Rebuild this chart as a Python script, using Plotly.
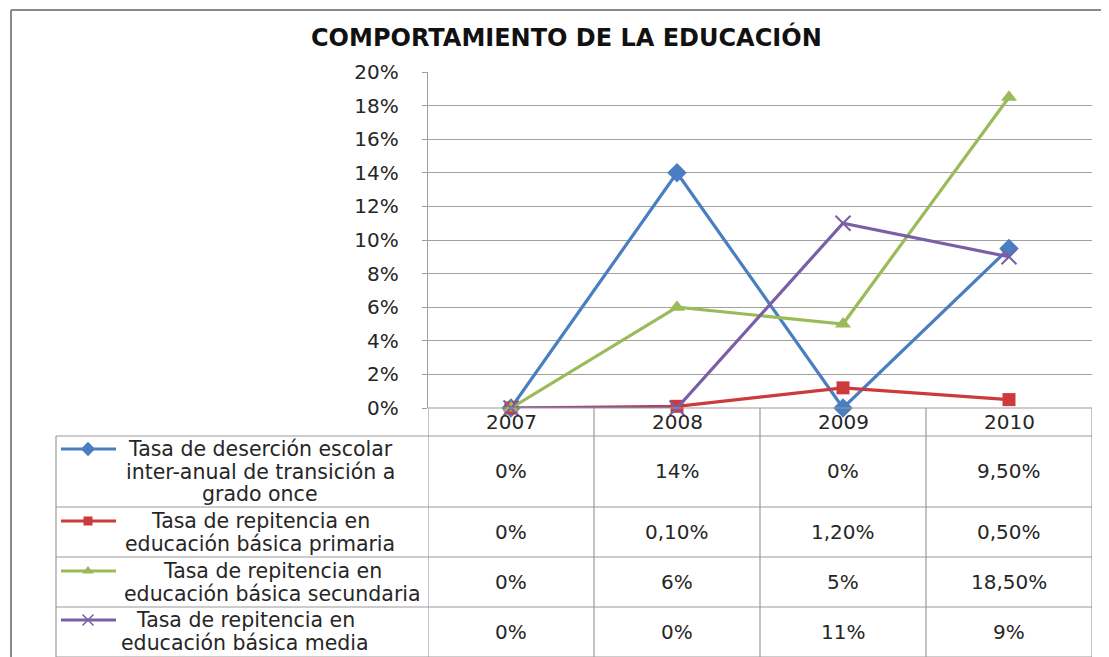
import plotly.graph_objects as go

# ---------------- data ----------------
years = ["2007", "2008", "2009", "2010"]

series_lines = [
    ["Tasa de deserción escolar", "inter-anual de transición a", "grado once"],
    ["Tasa de repitencia en", "educación básica primaria"],
    ["Tasa de repitencia en", "educación básica secundaria"],
    ["Tasa de repitencia en", "educación básica media"],
]

desercion = [0.0, 0.14, 0.0, 0.095]
rep_primaria = [0.0, 0.001, 0.012, 0.005]
rep_secundaria = [0.0, 0.06, 0.05, 0.185]
rep_media = [0.0, 0.0, 0.11, 0.09]

desercion_lbl = ["0%", "14%", "0%", "9,50%"]
rep_primaria_lbl = ["0%", "0,10%", "1,20%", "0,50%"]
rep_secundaria_lbl = ["0%", "6%", "5%", "18,50%"]
rep_media_lbl = ["0%", "0%", "11%", "9%"]

title_text = "COMPORTAMIENTO DE LA EDUCACIÓN"

# ---------------- layout / styles (page pixel coordinates) ----------------
PAGE_W, PAGE_H = 1109, 657
OFF = 8                                  # default body margin of the html page
W, H = PAGE_W - OFF, PAGE_H - OFF
PL, PR, PT, PB = 428, 1092, 72, 408      # plot area on the page
FONT = "DejaVu Sans"
TXT = "#262626"
GRID = "#a0a0a0"
TBL = "#9a9a9a"

values = [desercion, rep_primaria, rep_secundaria, rep_media]
labels = [desercion_lbl, rep_primaria_lbl, rep_secundaria_lbl, rep_media_lbl]
colors = ["#4A7EC0", "#CC3A3C", "#9BBB59", "#7A5EA6"]
symbols = ["diamond", "square", "triangle-up", "x-thin"]
msizes = [15, 13, 14, 15]

TBL_LEFT = 56
row_edges = [436, 507, 557, 607, 657]
row_first_y = [449, 521, 571, 620]
row_text_x = [260, 260, 272, 245]
LINE_GAP = 22.5


def fy(y):
    """page pixel y -> paper fraction"""
    return (PAGE_H - y) / H


fig = go.Figure()

for i in range(4):
    mk = dict(symbol=symbols[i], size=msizes[i], color=colors[i])
    if symbols[i] == "x-thin":
        mk["line"] = dict(color=colors[i], width=2)
    fig.add_trace(go.Scatter(
        x=years, y=values[i], mode="lines+markers",
        line=dict(color=colors[i], width=3.2),
        marker=mk, cliponaxis=False, showlegend=False,
        xaxis="x", yaxis="y",
    ))

# legend keys inside the table
for i in range(4):
    ky = row_first_y[i]
    fig.add_shape(type="line", xref="x2", yref="y2", x0=61, x1=116, y0=ky, y1=ky,
                  line=dict(color=colors[i], width=3), layer="above")
    mk = dict(symbol=symbols[i], size=msizes[i] - 4, color=colors[i])
    if symbols[i] == "x-thin":
        mk["line"] = dict(color=colors[i], width=1.5)
    fig.add_trace(go.Scatter(x=[88], y=[ky], mode="markers", marker=mk,
                             showlegend=False, xaxis="x2", yaxis="y2",
                             hoverinfo="skip", cliponaxis=False))

# table lines
shapes = []
shapes.append(dict(type="line", xref="x2", yref="y2", x0=PL, x1=PR, y0=PB, y1=PB,
                   line=dict(color=TBL, width=1.2)))
for ye in row_edges:
    shapes.append(dict(type="line", xref="x2", yref="y2", x0=TBL_LEFT, x1=PR, y0=ye, y1=ye,
                       line=dict(color=TBL, width=1.2)))
for xb in [-0.5, 0.5, 1.5, 2.5, 3.5]:
    shapes.append(dict(type="line", xref="x", yref="y2", x0=xb, x1=xb, y0=PB, y1=PAGE_H,
                       line=dict(color=TBL, width=1.2)))
shapes.append(dict(type="line", xref="x2", yref="y2", x0=TBL_LEFT, x1=TBL_LEFT,
                   y0=row_edges[0], y1=PAGE_H, line=dict(color=TBL, width=1.2)))
shapes.append(dict(type="line", xref="x2", yref="y2", x0=11, x1=11, y0=10, y1=PAGE_H,
                   line=dict(color="#8a8a8a", width=2)))
shapes.append(dict(type="line", xref="x2", yref="y2", x0=11, x1=PAGE_W, y0=10, y1=10,
                   line=dict(color="#8a8a8a", width=2)))
for s in shapes:
    fig.add_shape(**s)

annotations = []
for i in range(4):
    for k, line in enumerate(series_lines[i]):
        annotations.append(dict(xref="x2", yref="y2", x=row_text_x[i],
                                y=row_first_y[i] + k * LINE_GAP,
                                text=line, showarrow=False,
                                xanchor="center", yanchor="middle",
                                font=dict(family=FONT, size=20.5, color=TXT)))
    yc = (row_edges[i] + row_edges[i + 1]) / 2
    for j in range(len(years)):
        annotations.append(dict(xref="x", yref="paper", x=j, y=fy(yc),
                                text=labels[i][j], showarrow=False,
                                xanchor="center", yanchor="middle",
                                font=dict(family=FONT, size=20, color=TXT)))
for j in range(len(years)):
    annotations.append(dict(xref="x", yref="paper", x=j, y=fy(422),
                            text=years[j], showarrow=False,
                            xanchor="center", yanchor="middle",
                            font=dict(family=FONT, size=20, color=TXT)))
annotations.append(dict(xref="x2", yref="y2", x=566, y=37, text="<b>" + title_text + "</b>",
                        showarrow=False, xanchor="center", yanchor="middle",
                        font=dict(family=FONT, size=24, color="#111111")))

fig.update_layout(
    width=W, height=H,
    margin=dict(l=0, r=0, t=0, b=0, autoexpand=False),
    paper_bgcolor="white", plot_bgcolor="rgba(0,0,0,0)",
    showlegend=False,
    annotations=annotations,
    xaxis=dict(domain=[(PL - OFF) / W, (PR - OFF) / W], type="category", range=[-0.5, 3.5],
               anchor="y", automargin=False,
               showticklabels=False, showgrid=False, zeroline=False, showline=False,
               ticks="", fixedrange=True),
    yaxis=dict(domain=[fy(PB), fy(PT)], range=[0, 0.20], dtick=0.02,
               anchor="x", automargin=False,
               tickformat=".0%", showgrid=True, gridcolor=GRID, gridwidth=1.4,
               zeroline=False, showline=True, linecolor=GRID, linewidth=1.4,
               ticks="outside", ticklen=5, tickcolor=GRID, ticklabelstandoff=19,
               tickfont=dict(family=FONT, size=20, color=TXT), fixedrange=True),
    xaxis2=dict(domain=[0, 1], range=[OFF, PAGE_W], visible=False, anchor="y2",
                automargin=False, fixedrange=True),
    yaxis2=dict(domain=[0, 1], range=[PAGE_H, OFF], visible=False, anchor="x2",
                automargin=False, fixedrange=True),
)

fig.write_html("out.html")
